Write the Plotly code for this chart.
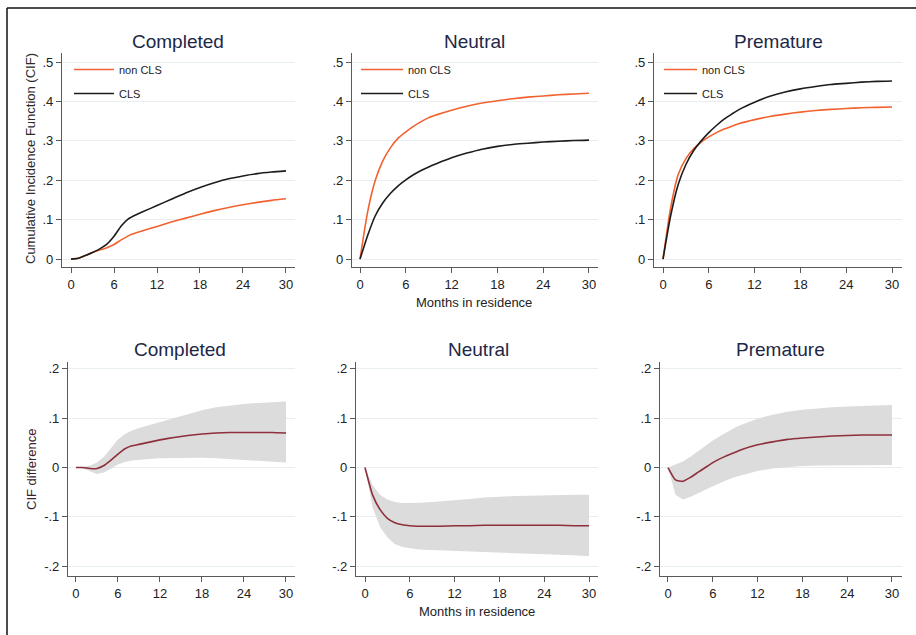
import plotly.graph_objects as go

W, H = 916, 635

months = [0, 1, 2, 3, 4, 5, 6, 7, 8, 9, 10, 12, 14, 16, 18, 20, 22, 24, 26, 28, 30]
panel_titles = ["Completed", "Neutral", "Premature"]
series_names = ["non CLS", "CLS"]

# Top row: cumulative incidence functions
completed_noncls = [0, 0.002, 0.009, 0.017, 0.023, 0.029, 0.037, 0.049, 0.059, 0.066, 0.072, 0.083, 0.094, 0.104, 0.114, 0.123, 0.131, 0.138, 0.144, 0.149, 0.153]
completed_cls = [0, 0.002, 0.009, 0.017, 0.026, 0.038, 0.058, 0.084, 0.102, 0.112, 0.120, 0.136, 0.152, 0.168, 0.182, 0.194, 0.204, 0.211, 0.217, 0.221, 0.224]
neutral_noncls = [0, 0.12, 0.20, 0.25, 0.283, 0.307, 0.323, 0.337, 0.349, 0.359, 0.366, 0.378, 0.388, 0.396, 0.402, 0.407, 0.411, 0.414, 0.417, 0.419, 0.421]
neutral_cls = [0, 0.06, 0.11, 0.143, 0.167, 0.186, 0.201, 0.214, 0.225, 0.234, 0.242, 0.257, 0.269, 0.279, 0.286, 0.291, 0.294, 0.297, 0.299, 0.301, 0.302]
premature_noncls = [0, 0.13, 0.215, 0.255, 0.28, 0.297, 0.31, 0.321, 0.33, 0.337, 0.344, 0.354, 0.362, 0.368, 0.373, 0.377, 0.38, 0.382, 0.384, 0.385, 0.386]
premature_cls = [0, 0.11, 0.19, 0.24, 0.275, 0.30, 0.321, 0.339, 0.355, 0.368, 0.38, 0.398, 0.413, 0.424, 0.432, 0.438, 0.443, 0.446, 0.449, 0.451, 0.452]

# Bottom row: CIF difference with confidence band
completed_diff = [0, 0, -0.002, -0.002, 0.004, 0.015, 0.027, 0.038, 0.044, 0.047, 0.05, 0.056, 0.061, 0.065, 0.068, 0.07, 0.071, 0.071, 0.071, 0.071, 0.07]
completed_upper = [0, 0.001, 0.004, 0.01, 0.022, 0.04, 0.057, 0.068, 0.075, 0.08, 0.084, 0.093, 0.101, 0.109, 0.116, 0.122, 0.126, 0.129, 0.131, 0.133, 0.134]
completed_lower = [0, -0.002, -0.008, -0.013, -0.01, -0.002, 0.006, 0.011, 0.014, 0.016, 0.017, 0.019, 0.02, 0.02, 0.02, 0.019, 0.017, 0.016, 0.014, 0.012, 0.01]
neutral_diff = [0, -0.055, -0.085, -0.103, -0.112, -0.116, -0.118, -0.119, -0.119, -0.119, -0.119, -0.118, -0.118, -0.117, -0.117, -0.117, -0.117, -0.117, -0.117, -0.118, -0.118]
neutral_upper = [0, -0.035, -0.055, -0.065, -0.07, -0.072, -0.072, -0.072, -0.071, -0.07, -0.069, -0.067, -0.064, -0.061, -0.059, -0.058, -0.057, -0.056, -0.056, -0.055, -0.055]
neutral_lower = [0, -0.08, -0.12, -0.142, -0.155, -0.161, -0.164, -0.166, -0.167, -0.168, -0.169, -0.17, -0.171, -0.172, -0.173, -0.174, -0.175, -0.176, -0.177, -0.178, -0.18]
premature_diff = [0, -0.025, -0.028, -0.02, -0.01, 0, 0.01, 0.018, 0.025, 0.031, 0.037, 0.046, 0.052, 0.057, 0.06, 0.062, 0.064, 0.065, 0.066, 0.066, 0.066]
premature_upper = [0, 0.006, 0.012, 0.022, 0.033, 0.044, 0.055, 0.064, 0.073, 0.081, 0.088, 0.099, 0.107, 0.113, 0.117, 0.12, 0.122, 0.124, 0.125, 0.126, 0.127]
premature_lower = [0, -0.055, -0.065, -0.06, -0.052, -0.045, -0.038, -0.031, -0.025, -0.019, -0.014, -0.007, -0.002, 0.001, 0.003, 0.004, 0.004, 0.005, 0.005, 0.005, 0.005]

x_ticks = [0, 6, 12, 18, 24, 30]
top_yticks = [0, 0.1, 0.2, 0.3, 0.4, 0.5]
top_ylabels = ["0", ".1", ".2", ".3", ".4", ".5"]
bot_yticks = [-0.2, -0.1, 0, 0.1, 0.2]
bot_ylabels = ["-.2", "-.1", "0", ".1", ".2"]

FONT = "Liberation Sans, Arial, sans-serif"
ORANGE = "#f26230"
BLACK = "#1c1c1c"
MAROON = "#8e2f3c"
BAND = "#dcdcdc"
GRID = "#e8eff2"
AXIS = "#5a5a5a"
TITLE_C = "#1d2747"

# pixel layout: (left, right, top, bottom, xrange)
top_panels = [
    (62, 295, 53, 267, [-1.26, 31.26]),
    (352, 598, 53, 267, [-1.05, 31.18]),
    (654, 902, 53, 267, [-1.18, 31.31]),
]
bot_panels = [
    (68, 295, 362, 576, [-1.14, 31.29]),
    (356, 598, 362, 576, [-1.205, 31.2]),
    (660, 902, 362, 576, [-1.07, 31.34]),
]
top_yrange = [-0.02, 0.523]
bot_yrange = [-0.220, 0.214]

tops = [(completed_noncls, completed_cls), (neutral_noncls, neutral_cls), (premature_noncls, premature_cls)]
bots = [(completed_diff, completed_upper, completed_lower),
        (neutral_diff, neutral_upper, neutral_lower),
        (premature_diff, premature_upper, premature_lower)]
title_cx = [178, 474, 778]
bot_title_cx = [180, 478, 780]

fig = go.Figure()
layout = {}
legend_names = ["legend", "legend2", "legend3"]
legend_x_px = [69, 356, 659]
legend_itemwidth = [40, 42, 33]

def px2x(p):
    return p / W

def px2y(p):
    return 1 - p / H

axis_common = dict(
    showline=True, linecolor=AXIS, linewidth=1.2,
    ticks="outside", ticklen=5, tickcolor=AXIS, tickwidth=1,
    tickfont=dict(family=FONT, size=13, color="#222222"),
    zeroline=False, fixedrange=True,
)

def ann(text, xp, yp, size, color, angle=0):
    return dict(text=text, x=px2x(xp), y=px2y(yp), xref="paper", yref="paper",
                xanchor="center", yanchor="middle", showarrow=False, textangle=angle,
                font=dict(family=FONT, size=size, color=color))

annotations = []
for i in range(3):
    # top panel
    idx = i + 1
    xa = "xaxis" if idx == 1 else f"xaxis{idx}"
    ya = "yaxis" if idx == 1 else f"yaxis{idx}"
    xr = "x" if idx == 1 else f"x{idx}"
    yr = "y" if idx == 1 else f"y{idx}"
    l, r, t, b, xrng = top_panels[i]
    layout[xa] = dict(axis_common, domain=[px2x(l), px2x(r)], range=xrng, anchor=yr,
                      tickvals=x_ticks, showgrid=False)
    layout[ya] = dict(axis_common, domain=[px2y(b), px2y(t)], range=top_yrange, anchor=xr,
                      tickvals=top_yticks, ticktext=top_ylabels, showgrid=True,
                      gridcolor=GRID, gridwidth=1)
    noncls, cls = tops[i]
    lg = legend_names[i]
    fig.add_trace(go.Scatter(x=months, y=noncls, mode="lines", name=series_names[0],
                             line=dict(color=ORANGE, width=1.6, shape="spline", smoothing=0.6),
                             xaxis=xr, yaxis=yr, legend=lg, legendgroup=f"a{i}"))
    fig.add_trace(go.Scatter(x=months, y=cls, mode="lines", name=series_names[1],
                             line=dict(color=BLACK, width=1.6, shape="spline", smoothing=0.6),
                             xaxis=xr, yaxis=yr, legend=lg, legendgroup=f"b{i}"))
    layout[lg] = dict(x=px2x(legend_x_px[i]), y=px2y(55), xanchor="left", yanchor="top",
                      bgcolor="rgba(0,0,0,0)", borderwidth=0,
                      font=dict(family=FONT, size=11, color="#222222"),
                      traceorder="grouped", tracegroupgap=5, itemwidth=legend_itemwidth[i])
    annotations.append(ann(panel_titles[i], title_cx[i], 42, 19, TITLE_C))

    # bottom panel
    idx = i + 4
    xa, ya, xr, yr = f"xaxis{idx}", f"yaxis{idx}", f"x{idx}", f"y{idx}"
    l, r, t, b, xrng = bot_panels[i]
    layout[xa] = dict(axis_common, domain=[px2x(l), px2x(r)], range=xrng, anchor=yr,
                      tickvals=x_ticks, showgrid=False)
    layout[ya] = dict(axis_common, domain=[px2y(b), px2y(t)], range=bot_yrange, anchor=xr,
                      tickvals=bot_yticks, ticktext=bot_ylabels, showgrid=True,
                      gridcolor=GRID, gridwidth=1)
    diff, up, lo = bots[i]
    fig.add_trace(go.Scatter(x=months + months[::-1], y=up + lo[::-1], mode="lines",
                             fill="toself", fillcolor=BAND, line=dict(width=0, color=BAND),
                             xaxis=xr, yaxis=yr, showlegend=False, hoverinfo="skip"))
    fig.add_trace(go.Scatter(x=months, y=diff, mode="lines",
                             line=dict(color=MAROON, width=1.6, shape="spline", smoothing=0.5),
                             xaxis=xr, yaxis=yr, showlegend=False))
    annotations.append(ann(panel_titles[i], bot_title_cx[i], 349, 19, TITLE_C))

annotations.append(ann("Months in residence", 474, 303, 13, "#222222"))
annotations.append(ann("Months in residence", 477, 611, 13, "#222222"))
annotations.append(ann("Cumulative Incidence Function (CIF)", 31, 159, 13, "#2a2a2a", -90))
annotations.append(ann("CIF difference", 31, 470, 13, "#3a2228", -90))

shapes = [
    dict(type="line", xref="paper", yref="paper", x0=px2x(7), x1=1.0, y0=px2y(8), y1=px2y(8),
         line=dict(color="#111111", width=1.5)),
    dict(type="line", xref="paper", yref="paper", x0=px2x(7), x1=px2x(7), y0=px2y(8), y1=0,
         line=dict(color="#111111", width=1.5)),
]

fig.update_layout(
    width=W, height=H, margin=dict(l=0, r=0, t=0, b=0),
    paper_bgcolor="white", plot_bgcolor="white",
    annotations=annotations, shapes=shapes,
    font=dict(family=FONT),
    **layout,
)

fig.write_html("out.html", config={"displayModeBar": False},
               post_script="document.body.style.margin='0';document.body.style.overflow='hidden';")
